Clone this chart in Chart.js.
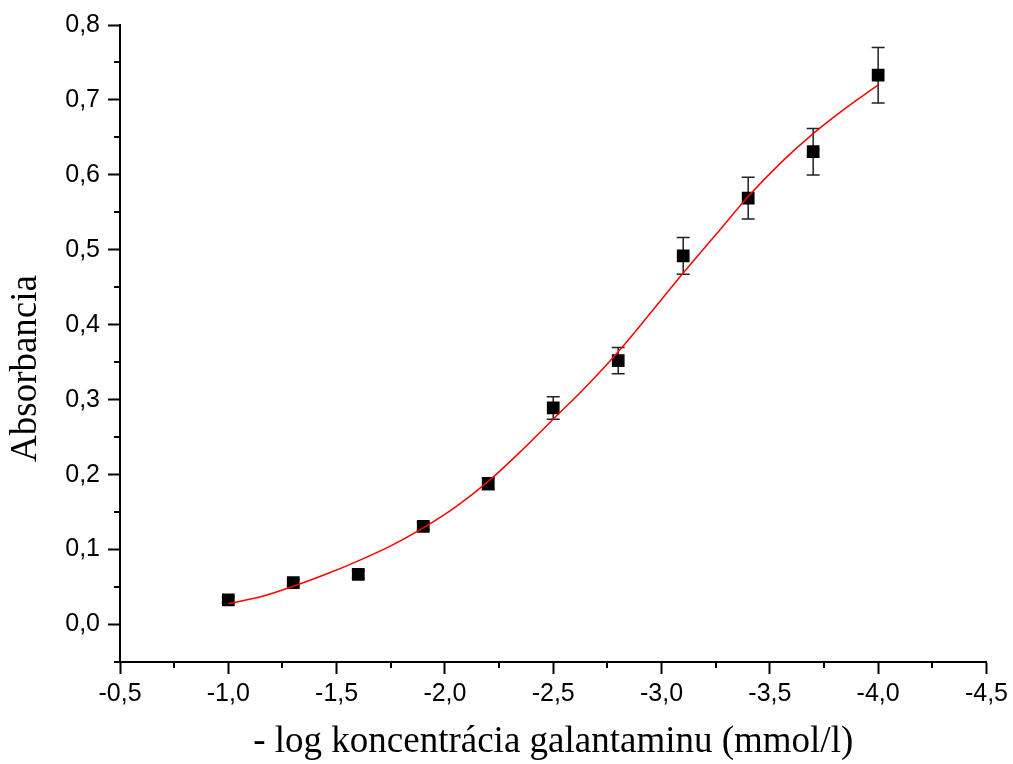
<!DOCTYPE html>
<html>
<head>
<meta charset="utf-8">
<script src="https://cdn.jsdelivr.net/npm/chart.js@4/dist/chart.umd.min.js"></script>
<style>
  html, body { margin:0; padding:0; background:#fff; }
  #wrap { width:1013px; height:764px; }
</style>
</head>
<body>
<div id="wrap"><canvas id="chart"></canvas></div>
<script>
// measured points (mean ± error)
const X_VALUES = [-1.0, -1.3, -1.6, -1.9, -2.2, -2.5, -2.8, -3.1, -3.4, -3.7, -4.0];
const Y_VALUES = [0.033, 0.056, 0.067, 0.131, 0.188, 0.289, 0.352, 0.492, 0.569, 0.631, 0.733];
const Y_ERRORS = [0.004, 0.004, 0.005, 0.005, 0.008, 0.015, 0.0175, 0.0245, 0.028, 0.031, 0.037];

// fitted curve
const CURVE_X = [-1.0, -1.15, -1.3, -1.45, -1.6, -1.75, -1.9, -2.05, -2.2, -2.35, -2.5,
                 -2.65, -2.8, -2.95, -3.1, -3.25, -3.4, -3.55, -3.7, -3.85, -4.0];
const CURVE_Y = [0.028, 0.037, 0.051, 0.067, 0.085, 0.105, 0.129, 0.157, 0.191, 0.231, 0.274,
                 0.317, 0.364, 0.416, 0.469, 0.520, 0.571, 0.616, 0.655, 0.689, 0.720];

// ticks
const X_TICKS = [-0.5, -1.0, -1.5, -2.0, -2.5, -3.0, -3.5, -4.0, -4.5];
const X_MINOR = [-0.75, -1.25, -1.75, -2.25, -2.75, -3.25, -3.75, -4.25];
const Y_TICKS = [0.0, 0.1, 0.2, 0.3, 0.4, 0.5, 0.6, 0.7, 0.8];
const Y_MINOR = [-0.05, 0.05, 0.15, 0.25, 0.35, 0.45, 0.55, 0.65, 0.75];

const Y_TITLE = 'Absorbancia';
const X_TITLE = '- log koncentrácia galantaminu (mmol/l)';

const fmt = (v) => v.toFixed(1).replace('.', ',');

const tickFont = { family: '"Liberation Sans", Arial, sans-serif', size: 25 };
const titleFont = { family: '"Liberation Serif", "Times New Roman", serif', size: 37 };

// error bars under the markers, minor ticks, and the y title (sits a bit below centre)
const extras = {
  id: 'extras',
  beforeDatasetsDraw(chart) {
    const { ctx, scales: { x, y } } = chart;
    ctx.save();
    ctx.strokeStyle = '#222';
    ctx.lineWidth = 1.5;
    X_VALUES.forEach((xv, i) => {
      const px = x.getPixelForValue(xv);
      const top = y.getPixelForValue(Y_VALUES[i] + Y_ERRORS[i]);
      const bot = y.getPixelForValue(Y_VALUES[i] - Y_ERRORS[i]);
      ctx.beginPath();
      ctx.moveTo(px, top); ctx.lineTo(px, bot);
      ctx.moveTo(px - 6.5, top); ctx.lineTo(px + 6.5, top);
      ctx.moveTo(px - 6.5, bot); ctx.lineTo(px + 6.5, bot);
      ctx.stroke();
    });
    ctx.restore();
  },
  afterDraw(chart) {
    const { ctx, scales: { x, y }, chartArea } = chart;
    ctx.save();
    ctx.strokeStyle = '#000';
    ctx.lineWidth = 2;
    ctx.beginPath();
    X_MINOR.forEach(v => {
      const px = Math.round(x.getPixelForValue(v));
      ctx.moveTo(px, chartArea.bottom); ctx.lineTo(px, chartArea.bottom + 6);
    });
    Y_MINOR.forEach(v => {
      const py = Math.round(y.getPixelForValue(v));
      ctx.moveTo(chartArea.left, py); ctx.lineTo(chartArea.left - 6, py);
    });
    ctx.stroke();

    ctx.translate(26, (chartArea.top + chartArea.bottom) / 2 + 25);
    ctx.rotate(-Math.PI / 2);
    ctx.fillStyle = '#000';
    ctx.font = `${titleFont.size}px ${titleFont.family}`;
    ctx.textAlign = 'center';
    ctx.textBaseline = 'middle';
    ctx.fillText(Y_TITLE, 0, 0);
    ctx.restore();
  }
};

new Chart(document.getElementById('chart'), {
  type: 'scatter',
  data: {
    datasets: [
      {
        label: 'fit',
        data: CURVE_X.map((v, i) => ({ x: v, y: CURVE_Y[i] })),
        showLine: true,
        borderColor: '#ff0000',
        borderWidth: 1.5,
        pointRadius: 0,
        cubicInterpolationMode: 'monotone',
        fill: false,
      },
      {
        label: 'data',
        data: X_VALUES.map((v, i) => ({ x: v, y: Y_VALUES[i] })),
        pointStyle: 'rect',
        pointRadius: 9,
        backgroundColor: '#000',
        borderColor: '#000',
        borderWidth: 0,
      }
    ]
  },
  options: {
    responsive: true,
    maintainAspectRatio: false,
    animation: false,
    layout: { padding: { top: 25, right: 24, left: 0, bottom: 0 } },
    plugins: { legend: { display: false }, tooltip: { enabled: false } },
    scales: {
      x: {
        type: 'linear',
        reverse: true,
        min: -4.5, max: -0.5,
        afterBuildTicks: (s) => { s.ticks = X_TICKS.map(v => ({ value: v })); },
        afterFit: (s) => { s.height = 102; },
        border: { color: '#000', width: 2 },
        grid: { drawOnChartArea: false, drawTicks: true, tickLength: 12, tickColor: '#000', tickWidth: 2 },
        ticks: { color: '#000', font: tickFont, padding: 5, maxRotation: 0, autoSkip: false, callback: (v) => fmt(v) },
        title: { display: true, text: X_TITLE, color: '#000', font: titleFont, padding: { top: 0, bottom: 0 } },
      },
      y: {
        type: 'linear',
        min: -0.05, max: 0.8,
        afterBuildTicks: (s) => { s.ticks = Y_TICKS.map(v => ({ value: v })); },
        afterFit: (s) => { s.width = 120; },
        border: { color: '#000', width: 2 },
        grid: { drawOnChartArea: false, drawTicks: true, tickLength: 12, tickColor: '#000', tickWidth: 2 },
        ticks: { color: '#000', font: tickFont, padding: 8, autoSkip: false, callback: (v) => fmt(v) },
        title: { display: false },
      }
    }
  },
  plugins: [extras]
});
</script>
</body>
</html>
